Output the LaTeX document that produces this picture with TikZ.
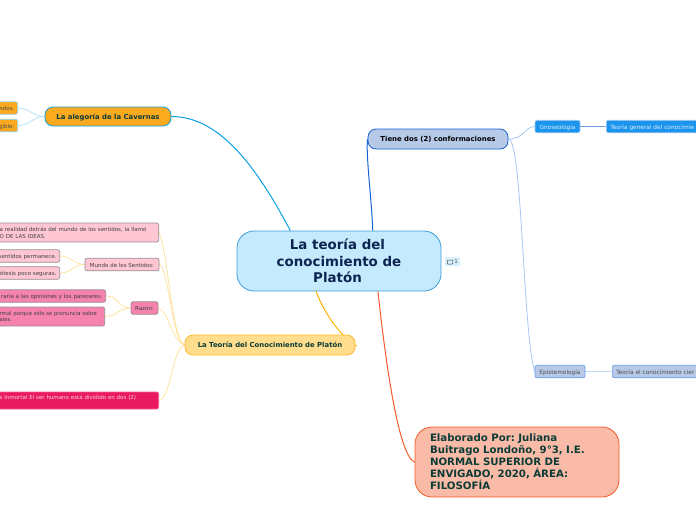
\documentclass[tikz,border=0pt]{standalone}
\usepackage{fontspec}
\setmainfont{DejaVu Sans}
\usepackage{tikz}
\usetikzlibrary{backgrounds}

\definecolor{darktext}{HTML}{0B3B35}
\definecolor{rootfill}{HTML}{C5EAFD}
\definecolor{rootline}{HTML}{3F9BD6}
\definecolor{roottext}{HTML}{0D2350}
\definecolor{skyline}{HTML}{0AA0E6}
\definecolor{caveorange}{HTML}{FBA91E}
\definecolor{royalline}{HTML}{1464D2}
\definecolor{slatefill}{HTML}{B6CAE8}
\definecolor{slateline}{HTML}{6C9FE4}
\definecolor{paleline}{HTML}{A5C6F2}
\definecolor{brightblue}{HTML}{1A94EC}
\definecolor{sandfill}{HTML}{FFDD8C}
\definecolor{sandline}{HTML}{FDB92E}
\definecolor{paleyellow}{HTML}{FFDF95}
\definecolor{amberline}{HTML}{FFB300}
\definecolor{rosefill}{HTML}{FFC7D4}
\definecolor{pinkfill}{HTML}{F583AE}
\definecolor{crimson}{HTML}{E91A5F}
\definecolor{greyline}{HTML}{9A8C92}
\definecolor{salmonfill}{HTML}{F9BBA8}
\definecolor{salmonline}{HTML}{F4592A}

\tikzset{
  topic/.style={draw, line width=0.8pt, rounded corners=8pt, inner sep=0pt, text height=7pt, text depth=1.5pt,
                font=\fontsize{6.9}{8}\selectfont\bfseries},
  small/.style={draw, line width=0.7pt, rounded corners=2pt, inner sep=0pt,
                minimum height=12.5pt, font=\fontsize{5.5}{6.8}\selectfont},
  oneline/.style={text height=6pt, text depth=1pt},
  cutleft/.style={small, oneline, inner xsep=3.2pt, text width=#1, align=right, anchor=east},
  cutlines/.style={small, inner xsep=4pt, text width=#1, align=left, anchor=east},
  cutright/.style={small, oneline, inner xsep=4pt, text width=#1, align=left, anchor=west},
  rose/.style={fill=rosefill, draw=greyline, text=black!75},
  pinkish/.style={fill=pinkfill, draw=greyline, text=black!75},
  cavebit/.style={fill=caveorange, draw=skyline!45, text=black!70},
  slate/.style={fill=slatefill, draw=slateline, text=black!70},
  bright/.style={fill=brightblue, draw=paleline, text=white!85!brightblue}
}

\begin{document}
\frenchspacing
\begin{tikzpicture}[x=1pt, y=-1pt]
  \useasboundingbox (0,0) rectangle (696,520);
  \clip (0,0) rectangle (696,520);

  % centro
  \node[draw=rootline, fill=rootfill, line width=0.8pt, rounded corners=17pt, text=roottext,
        minimum width=204pt, minimum height=60pt, inner sep=0pt, align=center,
        font=\fontsize{13.4}{16.6}\selectfont\bfseries] (root) at (339,261)
        {La teoría del\hspace*{3pt}\\conocimiento de\hspace*{3pt}\\Platón\hspace*{3pt}};
  \node[fill=rootfill!70, rounded corners=1pt, minimum width=15pt, minimum height=9pt, inner sep=0pt,
        text=black!70, font=\fontsize{5.5}{6}\selectfont] (note) at (452.5,261.5) {\hspace*{7pt}1};
  \draw[black!70, line width=0.5pt, rounded corners=0.8pt] ([xshift=2.5pt,yshift=-2.5pt]note.west)
        rectangle ([xshift=8pt,yshift=1.5pt]note.west);

  % ramas
  \node[topic, fill=caveorange, draw=skyline, text=darktext, minimum width=126pt, minimum height=19pt]
        (cave) at (108,116.5) {La alegoría de la Cavernas};
  \node[topic, fill=slatefill, draw=royalline, text=black, minimum width=140pt, minimum height=20pt]
        (forms) at (438,139) {Tiene dos (2) conformaciones};
  \node[topic, fill=sandfill, draw=sandline, text=darktext, minimum width=170pt, minimum height=20pt]
        (theory) at (270,345) {La Teoría del Conocimiento de Platón};
  \node[draw=salmonline, fill=salmonfill, line width=0.8pt, rounded corners=17pt, text=darktext,
        minimum width=204pt, minimum height=70pt, inner xsep=15pt, inner ysep=0pt,
        text width=174pt, align=left, font=\fontsize{10.2}{12}\selectfont\bfseries] (author) at (517,462)
        {Elaborado Por: Juliana\\Buitrago Londoño, 9°3, I.E.\\NORMAL SUPERIOR DE\\ENVIGADO, 2020, ÁREA:\\FILOSOFÍA};

  % izquierda arriba
  \node[cutleft=40pt, cavebit] (shadows) at (18,108) {ndos.};
  \node[cutleft=40pt, cavebit] (visible) at (18,125.5) {gible:};

  % izquierda, sentidos
  \node[cutlines=180pt, rose, minimum height=19pt] (ideas) at (159,232.5)
        {\hspace*{25pt}a realidad detrás del mundo de los sentidos, la llamó\\\hspace*{25pt}O DE LAS IDEAS.};
  \node[cutleft=80pt, rose] (lasting) at (60,256) {sentidos permanece.};
  \node[cutleft=80pt, rose] (unsure) at (60,273) {ótesis poco seguras.};
  \node[small, oneline, rose, minimum width=74pt] (senses) at (122,264.5) {Mundo de los Sentidos:};

  % izquierda, razon
  \node[cutleft=120pt, pinkish] (opinions) at (106,296) {raria a las opiniones y los pareceres.};
  \node[cutlines=135pt, pinkish, minimum height=19pt, inner xsep=5.5pt, font=\fontsize{5.3}{6.8}\selectfont] (formal) at (105,316.5)
        {\hspace*{35.5pt}rmal porque sólo se pronuncia sobre\\\hspace*{35.5pt}ales.};
  \node[small, oneline, pinkish, minimum width=27pt] (reason) at (144.5,308) {Razón:};

  \node[cutlines=180pt, fill=crimson, draw=crimson!70, text=white!80!crimson, minimum height=17pt] (soul)
        at (159,400.5) {\hspace*{25pt}s Inmortal El ser humano está dividido en dos (2)\\\mbox{}};

  % derecha
  \node[small, oneline, bright, minimum width=45pt, font=\fontsize{5.8}{6.8}\selectfont] (gnosis) at (557.5,126.5) {Gnoseología};
  \node[cutright=110pt, bright, font=\fontsize{5.8}{6.8}\selectfont] (general) at (606,126.5) {Teoría general del conocimie};
  \node[small, oneline, slate, minimum width=50pt, font=\fontsize{5.8}{6.8}\selectfont] (episteme) at (560,371.5) {Epistemología};
  \node[cutright=110pt, slate, font=\fontsize{5.8}{6.8}\selectfont] (science) at (612,371.5) {Teoría el conocimiento cier};

  % conectores
  \begin{scope}[on background layer]
    \draw[skyline, line width=1pt] (root.148.5) .. controls +(-32,-60) and +(50,0) .. (cave.east);
    \draw[royalline, line width=1pt] (root.42.3) .. controls +(-1,-30) and +(-2,15) .. (forms.west);
    \draw[amberline, line width=1pt] (root.233.7) .. controls +(8,22) and +(-14,-8) .. (theory.east);
    \draw[amberline, line width=1pt] (theory.east) -- +(2,0);
    \draw[salmonline, line width=1pt] (root.-38.3) .. controls +(12,110) and +(-12,-4) .. (author.west);

    \draw[paleline, line width=0.8pt] (forms.east) .. controls +(16,0) and +(-10,0) .. (gnosis.west);
    \draw[paleline, line width=0.8pt] (forms.east) .. controls +(14,0) and +(-12,-40) .. (episteme.west);
    \draw[slateline, line width=0.7pt] (gnosis.east) -- (general.west);
    \draw[paleline!70, line width=1.2pt] (episteme.east) -- (science.west);

    \draw[skyline!35, line width=0.7pt] (cave.west) .. controls +(-12,0) and +(12,0) .. (shadows.east);
    \draw[skyline!35, line width=0.7pt] (cave.west) .. controls +(-12,0) and +(12,0) .. (visible.east);

    \draw[paleyellow, line width=0.7pt] (theory.west) .. controls +(-13,-5) and +(9,18) .. (ideas.east);
    \draw[paleyellow, line width=0.7pt] (theory.west) .. controls +(-13,-5) and +(10,6) .. (senses.east);
    \draw[paleyellow, line width=0.7pt] (theory.west) .. controls +(-12,-3) and +(10,3) .. (reason.east);
    \draw[paleyellow, line width=0.7pt] (theory.west) .. controls +(-12,2) and +(12,-2) .. (soul.east);
    \draw[paleyellow, line width=0.7pt] (senses.west) .. controls +(-12,0) and +(12,0) .. (lasting.east);
    \draw[paleyellow, line width=0.7pt] (senses.west) .. controls +(-12,0) and +(12,0) .. (unsure.east);
    \draw[paleyellow, line width=0.7pt] (reason.west) .. controls +(-12,0) and +(12,0) .. (opinions.east);
    \draw[paleyellow, line width=0.7pt] (reason.west) .. controls +(-12,0) and +(12,0) .. (formal.east);
  \end{scope}
\end{tikzpicture}
\end{document}
